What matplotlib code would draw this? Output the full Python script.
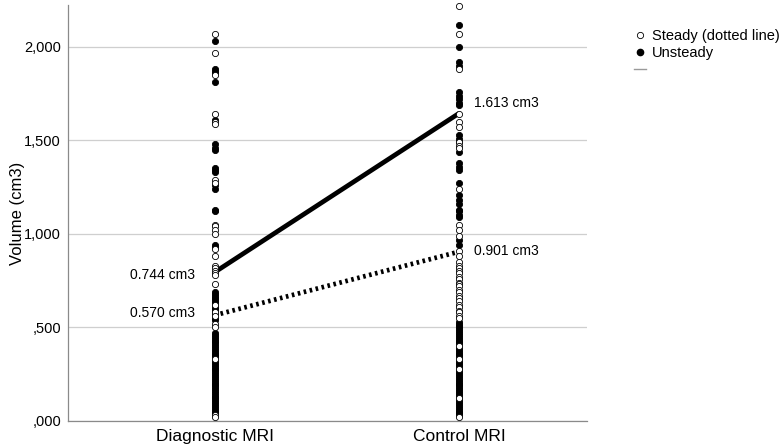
import matplotlib.pyplot as plt
from matplotlib.lines import Line2D

plt.rcParams["font.family"] = ["Liberation Sans", "DejaVu Sans"]

# --- DATA (volume in cm3) ---
groups = ["Diagnostic MRI", "Control MRI"]

diag_steady = [2.07, 1.97, 1.85, 1.64, 1.60, 1.59, 1.29, 1.27, 1.05, 1.04,
               1.02, 1.00, 0.92, 0.88, 0.83, 0.82, 0.80, 0.79, 0.78, 0.73,
               0.62, 0.58, 0.56, 0.52, 0.50, 0.33, 0.03, 0.02]
diag_unsteady = [2.03, 1.88, 1.87, 1.86, 1.81, 1.61, 1.48, 1.46, 1.45, 1.35,
                 1.34, 1.33, 1.26, 1.24, 1.13, 1.12, 0.94, 0.93, 0.69, 0.68,
                 0.67, 0.66, 0.65, 0.64, 0.63, 0.61, 0.60, 0.59, 0.57, 0.55,
                 0.54, 0.47, 0.46, 0.45, 0.44, 0.43, 0.42, 0.41, 0.40, 0.39,
                 0.38, 0.37, 0.36, 0.35, 0.34, 0.32, 0.31, 0.30, 0.29, 0.28,
                 0.27, 0.26, 0.25, 0.24, 0.23, 0.22, 0.21, 0.20, 0.19, 0.18,
                 0.17, 0.16, 0.15, 0.14, 0.13, 0.12, 0.11, 0.10, 0.09, 0.08,
                 0.07, 0.06, 0.05, 0.04]
ctrl_steady = [2.22, 2.07, 1.88, 1.64, 1.60, 1.57, 1.49, 1.47, 1.46, 1.24,
               1.05, 1.02, 0.99, 0.91, 0.88, 0.85, 0.83, 0.82, 0.80, 0.79,
               0.77, 0.76, 0.74, 0.73, 0.72, 0.70, 0.69, 0.67, 0.66, 0.64,
               0.62, 0.61, 0.59, 0.58, 0.56, 0.55, 0.40, 0.33, 0.28, 0.12,
               0.02]
ctrl_unsteady = [2.12, 2.00, 1.92, 1.90, 1.76, 1.74, 1.72, 1.70, 1.69, 1.53,
                 1.51, 1.49, 1.44, 1.38, 1.36, 1.34, 1.27, 1.21, 1.18, 1.16,
                 1.13, 1.12, 1.10, 1.09, 0.97, 0.94, 0.53, 0.52, 0.51, 0.50,
                 0.49, 0.48, 0.47, 0.46, 0.45, 0.44, 0.43, 0.42, 0.41, 0.39,
                 0.38, 0.37, 0.36, 0.35, 0.34, 0.32, 0.31, 0.30, 0.29, 0.27,
                 0.26, 0.25, 0.24, 0.23, 0.22, 0.21, 0.20, 0.19, 0.18, 0.17,
                 0.16, 0.15, 0.14, 0.13, 0.11, 0.10, 0.09, 0.08, 0.07, 0.06,
                 0.05, 0.04, 0.03]

steady_mean = [0.565, 0.905]
unsteady_mean = [0.795, 1.645]
steady_labels = ["0.570 cm3", "0.901 cm3"]
unsteady_labels = ["0.744 cm3", "1.613 cm3"]

yticks = [0.0, 0.5, 1.0, 1.5, 2.0]
ytick_labels = [",000", ",500", "1,000", "1,500", "2,000"]

# --- PLOT ---
fig = plt.figure(figsize=(7.81, 4.44), dpi=100)
ax = fig.add_axes([0.087, 0.052, 0.665, 0.937])

ax.set_xlim(-0.60, 1.525)
ax.set_ylim(0, 2.225)

ax.set_yticks(yticks)
ax.set_yticklabels(ytick_labels, fontsize=10.5)
ax.set_xticks([0, 1])
ax.set_xticklabels(groups, fontsize=12.5)
ax.tick_params(axis="both", length=0, pad=5)
ax.tick_params(axis="x", pad=6)
ax.yaxis.grid(True, color="#cfcfcf", linewidth=0.9)
ax.set_axisbelow(True)

for side in ["top", "right"]:
    ax.spines[side].set_visible(False)
for side in ["left", "bottom"]:
    ax.spines[side].set_color("#8a8a8a")
    ax.spines[side].set_linewidth(0.9)

ax.set_ylabel("Volume (cm3)", fontsize=12)
ax.yaxis.set_label_coords(-0.083, 0.5)

# mean lines
ax.plot([0, 1], unsteady_mean, color="black", lw=3.4, solid_capstyle="butt", zorder=2)
ax.plot([0, 1], steady_mean, color="black", lw=3.4, linestyle=(0, (0.55, 0.75)), zorder=2)

# individual points
for xpos, vals in [(0, diag_unsteady), (1, ctrl_unsteady)]:
    ax.scatter([xpos] * len(vals), vals, s=20, color="black", edgecolors="black",
               linewidths=0.6, zorder=3, clip_on=False)
for xpos, vals in [(0, diag_steady), (1, ctrl_steady)]:
    ax.scatter([xpos] * len(vals), vals, s=20, facecolors="white", edgecolors="black",
               linewidths=0.6, zorder=4, clip_on=False)

# mean labels
ax.text(-0.08, 0.78, unsteady_labels[0], ha="right", va="center", fontsize=10)
ax.text(-0.08, 0.578, steady_labels[0], ha="right", va="center", fontsize=10)
ax.text(1.06, 1.70, unsteady_labels[1], ha="left", va="center", fontsize=10)
ax.text(1.06, 0.909, steady_labels[1], ha="left", va="center", fontsize=10)

# legend
handles = [
    Line2D([], [], marker="o", linestyle="none", markerfacecolor="white",
           markeredgecolor="black", markeredgewidth=0.6, markersize=4.5),
    Line2D([], [], marker="o", linestyle="none", markerfacecolor="black",
           markeredgecolor="black", markersize=4.5),
    Line2D([], [], color="#9a9a9a", lw=1.0),
]
fig.legend(handles, ["Steady (dotted line)", "Unsteady", " "],
           loc="upper left", bbox_to_anchor=(0.812, 0.935), frameon=False,
           fontsize=10.5, handlelength=0.8, handletextpad=0.4, labelspacing=0.2,
           borderaxespad=0, borderpad=0)

plt.savefig("out.png", dpi=100)
